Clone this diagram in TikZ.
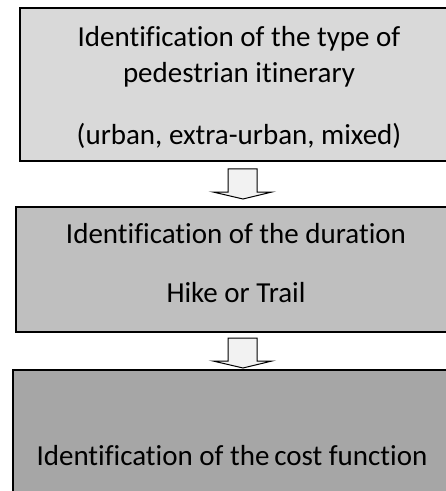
\documentclass[tikz,border=0pt]{standalone}
\usepackage{fontspec}
\setmainfont[Ligatures={NoCommon}]{Carlito}
\definecolor{boxA}{HTML}{D9D9D9}
\definecolor{boxB}{HTML}{BFBFBF}
\definecolor{boxC}{HTML}{A6A6A6}
\definecolor{arrowfill}{HTML}{F2F2F2}
\begin{document}
\begin{tikzpicture}[x=1bp,y=-1bp,
  stagebox/.style={draw=black,line width=1.3bp,inner sep=0pt,outer sep=0pt},
  label/.style={anchor=base,inner sep=0pt,font=\fontsize{29bp}{34bp}\selectfont,text=black},
  blockarrow/.style={draw=black,line width=1bp,fill=arrowfill,line join=miter}]
\useasboundingbox (0,0) rectangle (446,491);
\clip (0,0) rectangle (446,491);
\fill[white] (0,0) rectangle (446,491);
% boxes
\path[stagebox,fill=boxA] (20,8) rectangle (458,161);
\path[stagebox,fill=boxB] (16,207) rectangle (456,332);
\path[stagebox,fill=boxC] (13,370) rectangle (452,520);
% texts
\node[label] (t1) at (239,47) {Identification of the type of};
\node[label] (t2) at (239,83) {pedestrian itinerary};
\node[label] (t3) at (239,145) {(urban, extra-urban, mixed)};
\node[label] (t4) at (236,243) {Identification of the duration};
\node[label] (t5) at (236,302) {Hike or Trail};
\node[label] (t6) at (232,465) {Identification of the\,cost function};
% block arrows
\draw[blockarrow] (228,169) -- (257,169) -- (257,192) -- (272,192) -- (243,199) -- (213,192) -- (228,192) -- cycle;
\draw[blockarrow] (228,338) -- (257,338) -- (257,361) -- (272,361) -- (243,368) -- (213,361) -- (228,361) -- cycle;
\end{tikzpicture}
\end{document}
